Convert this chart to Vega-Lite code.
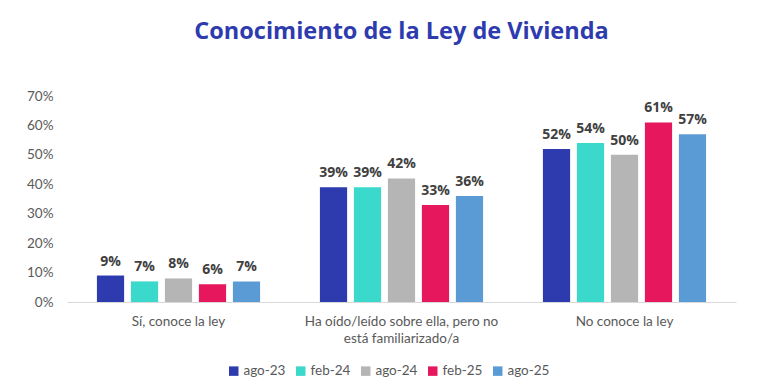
{
  "$schema": "https://vega.github.io/schema/vega-lite/v6.json",
  "autosize": "none",
  "width": 669,
  "height": 206,
  "padding": {"left": 67, "top": 96, "right": 41, "bottom": 89},
  "background": "white",
  "title": {
    "text": "Conocimiento de la Ley de Vivienda",
    "font": "Open Sans",
    "fontSize": 23.5,
    "fontWeight": "bold",
    "color": "#2E3BAE",
    "anchor": "middle",
    "offset": 46
  },
  "data": {
    "values": [
      {"cat": "Sí, conoce la ley", "wave": "ago-23", "v": 0.09},
      {"cat": "Sí, conoce la ley", "wave": "feb-24", "v": 0.07},
      {"cat": "Sí, conoce la ley", "wave": "ago-24", "v": 0.08},
      {"cat": "Sí, conoce la ley", "wave": "feb-25", "v": 0.06},
      {"cat": "Sí, conoce la ley", "wave": "ago-25", "v": 0.07},
      {"cat": "Ha oído/leído sobre ella, pero no|está familiarizado/a", "wave": "ago-23", "v": 0.39},
      {"cat": "Ha oído/leído sobre ella, pero no|está familiarizado/a", "wave": "feb-24", "v": 0.39},
      {"cat": "Ha oído/leído sobre ella, pero no|está familiarizado/a", "wave": "ago-24", "v": 0.42},
      {"cat": "Ha oído/leído sobre ella, pero no|está familiarizado/a", "wave": "feb-25", "v": 0.33},
      {"cat": "Ha oído/leído sobre ella, pero no|está familiarizado/a", "wave": "ago-25", "v": 0.36},
      {"cat": "No conoce la ley", "wave": "ago-23", "v": 0.52},
      {"cat": "No conoce la ley", "wave": "feb-24", "v": 0.54},
      {"cat": "No conoce la ley", "wave": "ago-24", "v": 0.50},
      {"cat": "No conoce la ley", "wave": "feb-25", "v": 0.61},
      {"cat": "No conoce la ley", "wave": "ago-25", "v": 0.57}
    ]
  },
  "encoding": {
    "x": {
      "field": "cat",
      "type": "nominal",
      "sort": null,
      "scale": {"paddingInner": 0, "paddingOuter": 0},
      "axis": {
        "title": null,
        "labelAngle": 0,
        "labelExpr": "split(datum.label, '|')",
        "labelFont": "Lato",
        "labelFontSize": 13.5,
        "labelColor": "#595959",
        "labelPadding": 12,
        "labelLineHeight": 17,
        "labelLimit": 0,
        "ticks": false,
        "domainColor": "#D9D9D9",
        "domainWidth": 1
      }
    },
    "xOffset": {
      "field": "wave",
      "type": "nominal",
      "sort": ["ago-23", "feb-24", "ago-24", "feb-25", "ago-25"],
      "scale": {"paddingInner": 0.2, "paddingOuter": 0.88}
    },
    "y": {
      "field": "v",
      "type": "quantitative",
      "scale": {"domain": [0, 0.7]},
      "axis": {
        "title": null,
        "format": ".0%",
        "values": [0, 0.1, 0.2, 0.3, 0.4, 0.5, 0.6, 0.7],
        "labelOverlap": false,
        "grid": false,
        "domain": false,
        "ticks": false,
        "labelFont": "Lato",
        "labelFontSize": 13.5,
        "labelColor": "#595959",
        "labelPadding": 14
      }
    }
  },
  "layer": [
    {
      "mark": {"type": "bar"},
      "encoding": {
        "color": {
          "field": "wave",
          "type": "nominal",
          "sort": ["ago-23", "feb-24", "ago-24", "feb-25", "ago-25"],
          "scale": {
            "domain": ["ago-23", "feb-24", "ago-24", "feb-25", "ago-25"],
            "range": ["#2E3BAE", "#3AD9CB", "#B5B5B5", "#E6175C", "#5B9BD5"]
          },
          "legend": {
            "title": null,
            "orient": "none",
            "direction": "horizontal",
            "legendX": 160,
            "legendY": 268,
            "symbolType": "square",
            "symbolSize": 90,
            "symbolStrokeWidth": 0,
            "symbolOpacity": 1,
            "labelFont": "Lato",
            "labelFontSize": 13.5,
            "labelColor": "#595959",
            "labelOffset": 3,
            "columnPadding": 8
          }
        }
      }
    },
    {
      "mark": {
        "type": "text",
        "baseline": "bottom",
        "dy": -7,
        "font": "Open Sans",
        "fontSize": 14,
        "fontWeight": "bold",
        "color": "#404040"
      },
      "encoding": {
        "text": {"field": "v", "type": "quantitative", "format": ".0%"}
      }
    }
  ],
  "config": {
    "view": {"stroke": null}
  }
}
